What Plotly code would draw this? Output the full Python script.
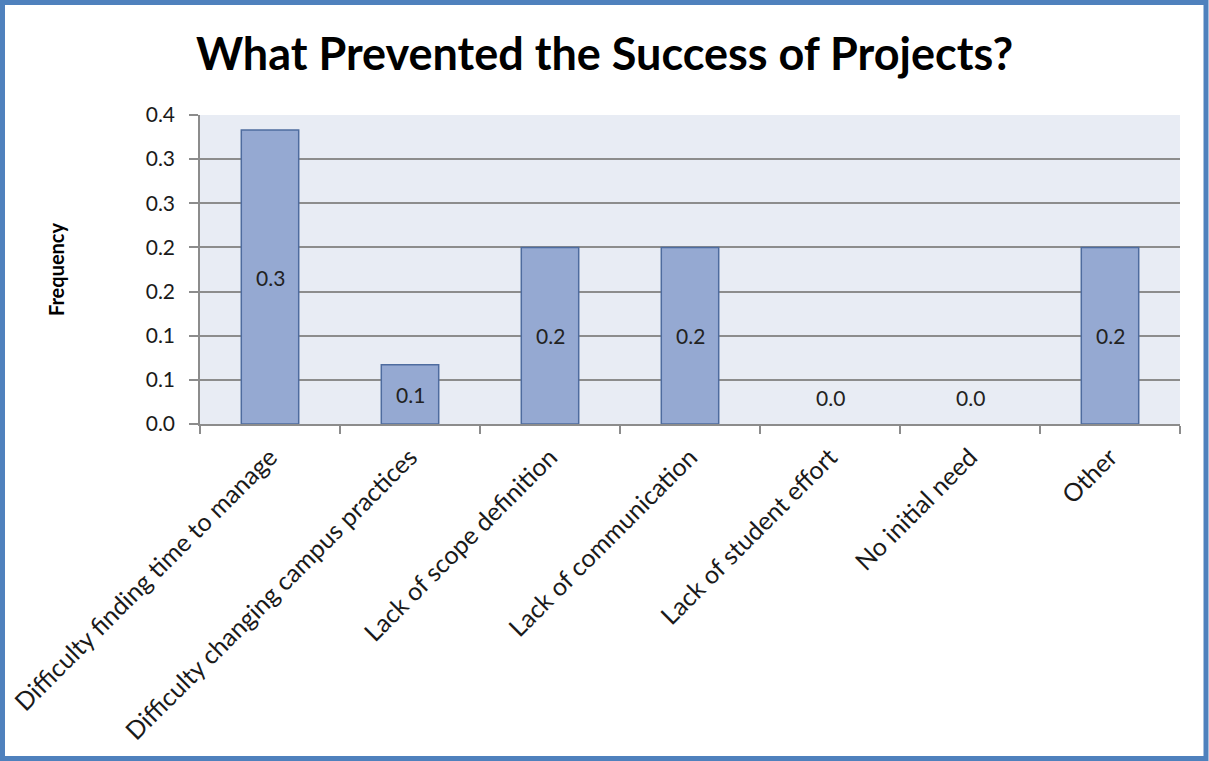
import plotly.graph_objects as go

categories = [
    "Difficulty finding time to manage",
    "Difficulty changing campus practices",
    "Lack of scope definition",
    "Lack of communication",
    "Lack of student effort",
    "No initial need",
    "Other",
]
frequency = [0.333, 0.067, 0.2, 0.2, 0.0, 0.0, 0.2]
y_tick_vals = [0.0, 0.05, 0.10, 0.15, 0.20, 0.25, 0.30, 0.35]
y_tick_text = ["0.0", "0.1", "0.1", "0.2", "0.2", "0.3", "0.3", "0.4"]

W, H = 1209, 761
L, R, T, B = 200, 29, 115, 337
PW, PH = W - L - R, H - T - B

FONT = "Lato"
TXT = "#1a1a1a"

fig = go.Figure()
fig.add_trace(go.Bar(
    x=categories, y=frequency,
    marker=dict(color="#95A9D2",
                line=dict(color="#4E6C9F",
                          width=[1.5 if v > 0 else 0 for v in frequency])),
    width=0.41,
    hoverinfo="skip",
))

for c, v in zip(categories, frequency):
    fig.add_annotation(
        x=c, y=max(v / 2, 0.03), text=f"{v:.1f}", showarrow=False,
        font=dict(family=FONT, size=21, color="#222"),
        xref="x", yref="y",
    )

def px_x(p):
    return (p - L) / PW

def px_y(p):
    return (H - B - p) / PH

fig.add_shape(type="rect", xref="paper", yref="paper",
              x0=px_x(2.5), x1=px_x(1206), y0=px_y(2.5), y1=px_y(758.5),
              line=dict(color="#4F81BD", width=5), layer="below")

fig.update_layout(
    width=W, height=H,
    margin=dict(l=L, r=R, t=T, b=B, autoexpand=False),
    paper_bgcolor="white",
    plot_bgcolor="#E8ECF4",
    showlegend=False,
    title=dict(text="<b>What Prevented the Success of Projects?</b>",
               x=0.5, xanchor="center", y=1 - 54 / H, yanchor="middle",
               font=dict(family=FONT, size=45, color="black")),
    xaxis=dict(
        type="category", range=[-0.5, 6.5],
        tickangle=-45, tickson="boundaries", ticks="outside", ticklen=8,
        tickcolor="#8c8c8c", tickwidth=1.5, ticklabelstandoff=7,
        showline=True, linecolor="#8c8c8c", linewidth=1.5,
        tickfont=dict(family=FONT, size=25, color=TXT),
        showgrid=False, fixedrange=True,
    ),
    yaxis=dict(
        range=[0, 0.35], tickvals=y_tick_vals, ticktext=y_tick_text,
        ticks="outside", ticklen=9, tickcolor="#8c8c8c", tickwidth=1.5,
        ticklabelstandoff=10,
        showline=True, linecolor="#8c8c8c", linewidth=1.5,
        showgrid=True, gridcolor="#8c8c8c", gridwidth=1.5,
        zeroline=False,
        tickfont=dict(family=FONT, size=21, color=TXT),
        title=dict(text="<b>Frequency</b>", standoff=76,
                   font=dict(family=FONT, size=20, color="black")),
        fixedrange=True,
    ),
)

fig.write_html("out.html")
